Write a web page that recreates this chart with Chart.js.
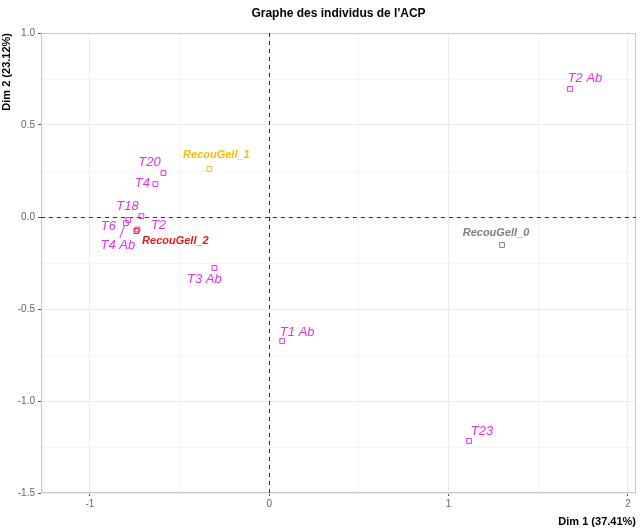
<!DOCTYPE html>
<html>
<head>
<meta charset="utf-8">
<script src="https://cdn.jsdelivr.net/npm/chart.js@4"></script>
<style>
  html, body { margin: 0; padding: 0; background: #fff; }
  canvas { display: block; }
</style>
</head>
<body>
<canvas id="acpChart" width="642" height="529"></canvas>
<script>
// individus de l'ACP (coordonnees)
const individus = ['T2 Ab', 'RecouGell_0', 'RecouGell_1', 'T20', 'T4', 'T18', 'T6', 'T4 Ab', 'T2', 'RecouGell_2', 'T3 Ab', 'T1 Ab', 'T23'];
const dim1 = [1.677, 1.298, -0.334, -0.590, -0.635, -0.713, -0.786, -0.800, -0.735, -0.741, -0.306, 0.072, 1.114];
const dim2 = [0.696, -0.152, 0.261, 0.239, 0.179, 0.005, -0.016, -0.033, -0.068, -0.076, -0.277, -0.674, -1.217];
const groupes = ['T', 'RecouGell_0', 'RecouGell_1', 'T', 'T', 'T', 'T', 'T', 'T', 'RecouGell_2', 'T', 'T', 'T'];

const xTicks = [-1, 0, 1, 2];
const yTicks = [-1.5, -1.0, -0.5, 0.0, 0.5, 1.0];

const titre = "Graphe des individus de l'ACP";
const titreX = 'Dim 1 (37.41%)';
const titreY = 'Dim 2 (23.12%)';

const couleurs = {
    'T': '#E233E2',
    'RecouGell_0': '#7F7F7F',
    'RecouGell_1': '#F2BE00',
    'RecouGell_2': '#E31A1C'
};

// decalage des etiquettes (px), a la maniere de ggrepel
const decalages = {
    'T2 Ab': [15, -11], 'RecouGell_0': [-6, -12], 'RecouGell_1': [7, -14],
    'T20': [-14, -11], 'T4': [-13, -1], 'T18': [-14, -10], 'T6': [-20, 6],
    'T4 Ab': [-8, 22], 'T2': [21, -4], 'RecouGell_2': [39, 10],
    'T3 Ab': [-10, 11], 'T1 Ab': [15, -9], 'T23': [13, -10]
};

const points = dim1.map((x, i) => ({ x: x, y: dim2[i] }));
const couleurPoints = groupes.map(g => couleurs[g]);

const grisGrille = '#EBEBEB';

const acpPlugin = {
    id: 'acpPlugin',
    beforeDatasetsDraw(chart) {
        const c = chart.ctx, a = chart.chartArea;
        const sx = chart.scales.x, sy = chart.scales.y;
        c.save();
        // cadre du panneau
        c.strokeStyle = '#C8C8C8';
        c.lineWidth = 1;
        c.strokeRect(a.left + 0.5, a.top + 0.5, a.right - a.left - 1, a.bottom - a.top - 1);
        // lignes en pointilles a l'origine
        c.strokeStyle = '#333';
        c.setLineDash([4, 4]);
        const x0 = Math.round(sx.getPixelForValue(0)) + 0.5;
        const y0 = Math.round(sy.getPixelForValue(0)) + 0.5;
        c.beginPath();
        c.moveTo(x0, a.top); c.lineTo(x0, a.bottom);
        c.moveTo(a.left, y0); c.lineTo(a.right, y0);
        c.stroke();
        c.restore();
    },
    afterDatasetsDraw(chart) {
        const c = chart.ctx, a = chart.chartArea;
        const sx = chart.scales.x, sy = chart.scales.y;
        c.save();
        c.textAlign = 'center';
        c.textBaseline = 'middle';
        individus.forEach((nom, i) => {
            const px = sx.getPixelForValue(dim1[i]);
            const py = sy.getPixelForValue(dim2[i]);
            const d = decalages[nom];
            const tx = px + d[0], ty = py + d[1];
            c.fillStyle = couleurs[groupes[i]];
            if (groupes[i] !== 'T') c.font = 'italic bold 11px "Liberation Sans", Arial, sans-serif';
            else c.font = 'italic 13px "Liberation Sans", Arial, sans-serif';
            c.fillText(nom, tx, ty);
            if (nom === 'T4 Ab') {
                c.strokeStyle = couleurs[groupes[i]];
                c.lineWidth = 1;
                c.beginPath();
                c.moveTo(tx + 2, ty - 7);
                c.lineTo(px - 1, py + 2);
                c.stroke();
            }
        });
        // titre
        c.fillStyle = '#000';
        c.font = 'bold 12px "Liberation Sans", Arial, sans-serif';
        c.fillText(titre, (a.left + a.right) / 2, 14);
        c.restore();
    }
};

const ctx = document.getElementById('acpChart').getContext('2d');
const chart = new Chart(ctx, {
    type: 'scatter',
    data: {
        datasets: [{
            label: 'individus',
            data: points,
            pointStyle: 'rect',
            pointRadius: 3.4,
            pointHoverRadius: 3.4,
            borderWidth: 1,
            borderColor: couleurPoints,
            backgroundColor: 'rgba(0,0,0,0)'
        }]
    },
    options: {
        responsive: false,
        animation: false,
        events: [],
        layout: { padding: { top: 33, right: 6, left: 0, bottom: 0 } },
        plugins: {
            legend: { display: false },
            tooltip: { enabled: false }
        },
        scales: {
            x: {
                type: 'linear',
                min: -1.273,
                max: 2.045,
                afterBuildTicks(scale) {
                    scale.ticks = [-1, -0.5, 0, 0.5, 1, 1.5, 2].map(v => ({ value: v }));
                },
                afterFit(scale) { scale.height = 36; },
                ticks: {
                    color: '#666',
                    font: { family: '"Liberation Sans", Arial', size: 10 },
                    padding: 2,
                    maxRotation: 0,
                    callback: v => xTicks.includes(v) ? String(v) : ''
                },
                grid: {
                    color: ctx => ctx.tick && xTicks.includes(ctx.tick.value) ? grisGrille : '#F4F4F4',
                    tickColor: ctx => ctx.tick && xTicks.includes(ctx.tick.value) ? '#555' : 'rgba(0,0,0,0)',
                    tickLength: 3,
                    drawTicks: true
                },
                border: { display: false },
                title: {
                    display: true,
                    text: titreX,
                    align: 'end',
                    color: '#000',
                    font: { family: '"Liberation Sans", Arial', size: 11, weight: 'bold' },
                    padding: { top: 0, bottom: 0 }
                }
            },
            y: {
                type: 'linear',
                min: -1.5,
                max: 1.0,
                afterBuildTicks(scale) {
                    const t = [];
                    for (let v = -1.5; v <= 1.0001; v += 0.25) t.push({ value: Math.round(v * 100) / 100 });
                    scale.ticks = t;
                },
                afterFit(scale) { scale.width = 41; },
                ticks: {
                    color: '#666',
                    font: { family: '"Liberation Sans", Arial', size: 10 },
                    padding: 3,
                    callback: v => yTicks.includes(v) ? v.toFixed(1) : ''
                },
                grid: {
                    color: ctx => ctx.tick && yTicks.includes(ctx.tick.value) ? grisGrille : '#F4F4F4',
                    tickColor: ctx => ctx.tick && yTicks.includes(ctx.tick.value) ? '#555' : 'rgba(0,0,0,0)',
                    tickLength: 3
                },
                border: { display: false },
                title: {
                    display: true,
                    text: titreY,
                    align: 'end',
                    color: '#000',
                    font: { family: '"Liberation Sans", Arial', size: 11, weight: 'bold' },
                    padding: { top: 0, bottom: 0 }
                }
            }
        }
    },
    plugins: [acpPlugin]
});
</script>
</body>
</html>
